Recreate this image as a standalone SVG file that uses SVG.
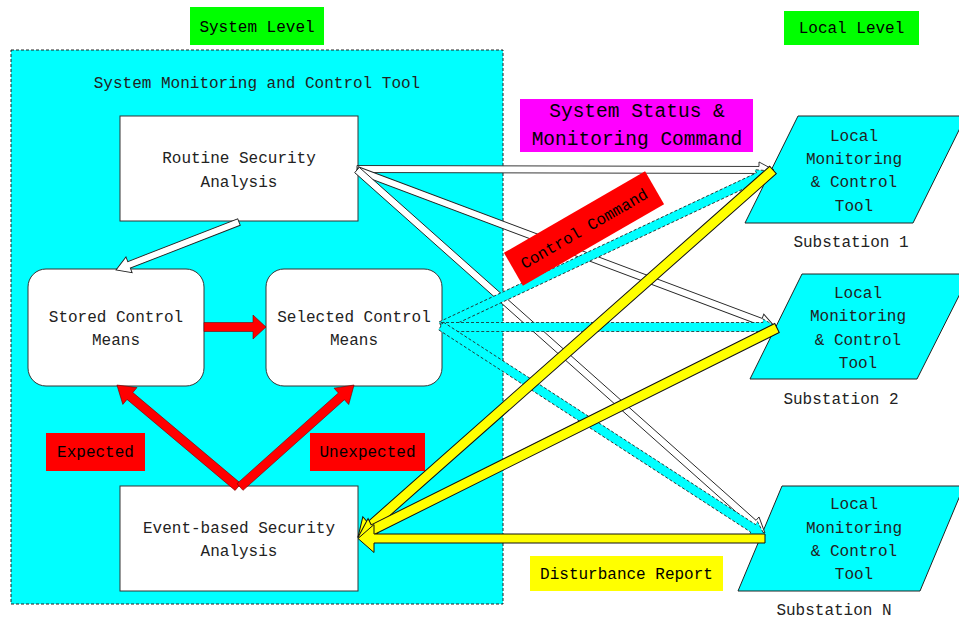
<svg xmlns="http://www.w3.org/2000/svg" width="959" height="621" viewBox="0 0 959 621">
  <style>
    text { font-family: "Liberation Mono", "DejaVu Sans Mono", monospace; font-size: 16px; fill: #222; text-anchor: middle; }
    .lbl { fill: #000; }
    .big { font-size: 19.5px; }
    .box { fill: #fff; stroke: #333; stroke-width: 1; }
    .sub { fill: #00ffff; stroke: #222; stroke-width: 1; }
    .red { fill: #ff0000; stroke: #700; stroke-width: 0.6; }
    .hollow { fill: #fff; stroke: #222; stroke-width: 0.9; }
    .cmd { fill: #00ffff; stroke: #222; stroke-width: 0.8; stroke-dasharray: 3 2; }
    .rep { fill: #ffff00; stroke: #111; stroke-width: 1; }
  </style>

  <!-- system-level area -->
  <g id="system-area">
    <rect x="11" y="50" width="492" height="554" fill="#00ffff" stroke="#222" stroke-width="1" stroke-dasharray="3 2"/>
    <text x="257" y="88">System Monitoring and Control Tool</text>
  </g>

  <g id="system-level">
    <rect x="190" y="7" width="134" height="38" fill="#00ff00"/>
    <text class="lbl" x="257" y="32">System Level</text>
  </g>
  <g id="local-level">
    <rect x="784" y="11" width="135" height="34" fill="#00ff00"/>
    <text class="lbl" x="851.5" y="33">Local Level</text>
  </g>

  <g id="routine">
    <rect class="box" x="120" y="116" width="238" height="105"/>
    <text x="239" y="163">Routine Security</text>
    <text x="239" y="187">Analysis</text>
  </g>
  <g id="stored">
    <rect class="box" x="28" y="269" width="176" height="117" rx="18"/>
    <text x="116" y="322">Stored Control</text>
    <text x="116" y="345">Means</text>
  </g>
  <g id="selected">
    <rect class="box" x="266" y="269" width="176" height="117" rx="18"/>
    <text x="354" y="322">Selected Control</text>
    <text x="354" y="345">Means</text>
  </g>
  <g id="event">
    <rect class="box" x="120" y="486" width="238" height="105"/>
    <text x="239" y="533">Event-based Security</text>
    <text x="239" y="556">Analysis</text>
  </g>

  <g id="expected">
    <rect x="46" y="433" width="99" height="38" fill="#ff0000"/>
    <text class="lbl" x="95.5" y="457">Expected</text>
  </g>
  <g id="unexpected">
    <rect x="310" y="433" width="115" height="38" fill="#ff0000"/>
    <text class="lbl" x="367.5" y="457">Unexpected</text>
  </g>

  <!-- substations -->
  <g id="substation-1">
    <polygon class="sub" points="798,116 966,116 913,223 745,223"/>
    <text x="854" y="141">Local</text>
    <text x="854" y="164">Monitoring</text>
    <text x="854" y="187">&amp; Control</text>
    <text x="854" y="211">Tool</text>
    <text x="851" y="247">Substation 1</text>
  </g>
  <g id="substation-2">
    <polygon class="sub" points="802,274 970,274 917,379 750,379"/>
    <text x="858" y="298">Local</text>
    <text x="858" y="321">Monitoring</text>
    <text x="858" y="345">&amp; Control</text>
    <text x="858" y="368">Tool</text>
    <text x="841" y="404">Substation 2</text>
  </g>
  <g id="substation-n">
    <polygon class="sub" points="782,486 964,486 920,591 738,591"/>
    <text x="854" y="509">Local</text>
    <text x="854" y="533">Monitoring</text>
    <text x="854" y="556">&amp; Control</text>
    <text x="854" y="579">Tool</text>
    <text x="834" y="615">Substation N</text>
  </g>

  <!-- block arrows: each path runs along +x from its start, then is placed -->
  <g id="connectors">
    <!-- internal flow -->
    <path class="red" stroke="none" d="M204,322.5 H253 V315 L266,327 L253,339 V331.5 H204 Z"/>
    <path class="red" transform="translate(238,487) rotate(-139.9)" d="M0,-4.5 H141.3 V-11 L158.3,0 L141.3,11 V4.5 H0 Z"/>
    <path class="red" transform="translate(240,487) rotate(-41.8)" d="M0,-4.5 H136 V-11 L153,0 L136,11 V4.5 H0 Z"/>
    <path class="hollow" transform="translate(239,222) rotate(158.7)" d="M0,-3.5 H118 V-8.5 L132,0 L118,8.5 V3.5 H0 Z"/>

    <!-- status and monitoring command -->
    <path class="hollow" transform="translate(357,169) rotate(0.14)" d="M0,-3.5 H402 V-8 L417,0 L402,8 V3.5 H0 Z"/>
    <path class="hollow" transform="translate(357,170) rotate(20.58)" d="M0,-3.5 H431.5 V-8 L446.5,0 L431.5,8 V3.5 H0 Z"/>
    <path class="hollow" transform="translate(357,170) rotate(41.66)" d="M0,-3.5 H531 V-8 L546,0 L531,8 V3.5 H0 Z"/>

    <!-- control command -->
    <path class="cmd" transform="translate(441,326) rotate(-25.16)" d="M0,-4.5 H350.6 V-8 L364.6,0 L350.6,8 V4.5 H0 Z"/>
    <path class="cmd" transform="translate(441,327)" d="M0,-4.5 H322 V-8 L336,0 L322,8 V4.5 H0 Z"/>
    <path class="cmd" transform="translate(441,326) rotate(32.95)" d="M0,-4.5 H372 V-8 L386,0 L372,8 V4.5 H0 Z"/>

    <!-- disturbance report -->
    <path class="rep" transform="translate(773,170) rotate(138.51)" d="M0,-5 H537 V-12 L554,0 L537,12 V5 H0 Z"/>
    <path class="rep" transform="translate(777,328) rotate(153.49)" d="M0,-5 H451 V-12 L468,0 L451,12 V5 H0 Z"/>
    <path class="rep" transform="translate(765,538.5) rotate(180)" d="M0,-4.5 H391 V-14 L407,0 L391,14 V4.5 H0 Z"/>
  </g>

  <!-- flow labels -->
  <g id="status-label">
    <rect x="520" y="99" width="233" height="53" fill="#ff00ff"/>
    <text class="lbl big" x="637" y="117">System Status &amp;</text>
    <text class="lbl big" x="637" y="145">Monitoring Command</text>
  </g>
  <g id="control-label" transform="translate(584,228.5) rotate(-30)">
    <rect x="-81.5" y="-19" width="163" height="38" fill="#ff0000"/>
    <text class="lbl" x="0" y="5.5">Control Command</text>
  </g>
  <g id="report-label">
    <rect x="530" y="556" width="193" height="35" fill="#ffff00"/>
    <text class="lbl" x="626.5" y="579">Disturbance Report</text>
  </g>
</svg>
